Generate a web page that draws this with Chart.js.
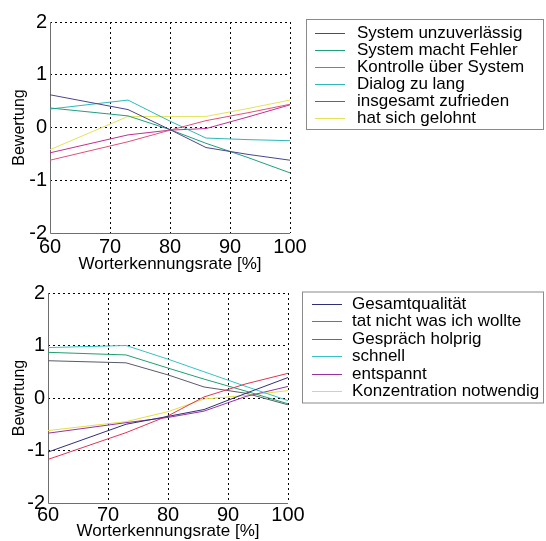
<!DOCTYPE html>
<html>
<head>
<meta charset="utf-8">
<script src="https://cdn.jsdelivr.net/npm/chart.js@4/dist/chart.umd.min.js"></script>
<style>
  html, body { margin: 0; padding: 0; background: #fff; }
  body { width: 546px; height: 541px; position: relative; overflow: hidden; }
  canvas { position: absolute; left: 0; }
  #c1 { top: 0; }
  #c2 { top: 275px; }
</style>
</head>
<body>
<canvas id="c1" width="546" height="282"></canvas>
<canvas id="c2" width="546" height="269"></canvas>
<script>
// ---------- data ----------
const xRates = [60, 73, 80, 86, 93, 100];
const yTicks = [-2, -1, 0, 1, 2];
const xTicks = [60, 70, 80, 90, 100];
const xTitle = "Worterkennungsrate [%]";
const yTitle = "Bewertung";

// top panel
const topLabels = ["System unzuverlässig", "System macht Fehler", "Kontrolle über System",
                   "Dialog zu lang", "insgesamt zufrieden", "hat sich gelohnt"];
const systemUnzuverlaessig = [0.62, 0.34, -0.04, -0.38, -0.51, -0.62];
const systemMachtFehler    = [0.37, 0.22, -0.04, -0.30, -0.57, -0.86];
const kontrolleUeberSystem = [-0.62, -0.27, -0.05, 0.13, 0.28, 0.44];
const dialogZuLang         = [0.35, 0.52, 0.12, -0.20, -0.23, -0.25];
const insgesamtZufrieden   = [-0.48, -0.14, -0.05, -0.02, 0.20, 0.43];
const hatSichGelohnt       = [-0.42, 0.21, 0.21, 0.21, 0.36, 0.52];

// bottom panel
const bottomLabels = ["Gesamtqualität", "tat nicht was ich wollte", "Gespräch holprig",
                      "schnell", "entspannt", "Konzentration notwendig"];
const gesamtqualitaet      = [-1.03, -0.50, -0.35, -0.22, 0.09, 0.39];
const tatNichtWasIchWollte = [0.87, 0.82, 0.57, 0.36, 0.13, -0.11];
const gespraechHolprig     = [-1.17, -0.66, -0.34, 0.02, 0.27, 0.47];
const schnell              = [0.96, 1.00, 0.74, 0.50, 0.22, -0.05];
const entspannt            = [-0.67, -0.47, -0.37, -0.25, 0.03, 0.22];
const konzentrationNotw    = [-0.62, -0.45, -0.26, -0.02, 0.05, 0.14];
const unlabeledSeries      = [0.71, 0.67, 0.44, 0.21, 0.09, -0.13];

// ---------- styles ----------
const FONT = "'Liberation Sans', Arial, Helvetica, sans-serif";
const topColors = ["#4a4590", "#1f9f7f", "#e0507a", "#2fb8b8", "#c0308f", "#e3e35a"];
const bottomColors = ["#2f2f78", "#1f9f72", "#e03458", "#35c4c4", "#9a2fa6", "#e2e040"];
const extraColor = "#5a5a6a";

function pts(vals) { return xRates.map((x, i) => ({ x: x, y: vals[i] })); }
function ds(label, vals, color, inLegend) {
  return { label: label, data: pts(vals), borderColor: color, backgroundColor: color,
           borderWidth: 1, pointRadius: 0, tension: 0, fill: false, inLegend: inLegend !== false };
}

const boxLegend = {
  id: 'boxLegend',
  beforeDatasetsDraw(chart) {
    const a = chart.chartArea, ctx = chart.ctx;
    ctx.save();
    ctx.strokeStyle = '#6e6e6e';
    ctx.lineWidth = 1;
    ctx.setLineDash([]);
    ctx.beginPath();
    ctx.moveTo(Math.round(a.left) + 0.5, a.top);
    ctx.lineTo(Math.round(a.left) + 0.5, Math.round(a.bottom) + 0.5);
    ctx.lineTo(a.right, Math.round(a.bottom) + 0.5);
    ctx.stroke();
    ctx.restore();
  },
  afterDraw(chart, args, o) {
    const ctx = chart.ctx;
    ctx.save();
    ctx.setLineDash([]);
    ctx.strokeStyle = '#8a8a8a';
    ctx.lineWidth = 1;
    ctx.strokeRect(o.x + 0.5, o.y + 0.5, o.w, o.h);
    ctx.font = o.fontSize + "px " + FONT;
    ctx.textBaseline = 'middle';
    ctx.textAlign = 'left';
    let row = 0;
    chart.data.datasets.forEach(d => {
      if (!d.inLegend) return;
      const y = Math.round(o.y0 + row * o.dy) + 0.5;
      ctx.strokeStyle = d.borderColor;
      ctx.lineWidth = 1;
      ctx.beginPath(); ctx.moveTo(o.lx1, y); ctx.lineTo(o.lx2, y); ctx.stroke();
      ctx.fillStyle = '#000';
      ctx.fillText(d.label, o.tx, y);
      row++;
    });
    ctx.restore();
  }
};

function makeOptions(cfg) {
  return {
    responsive: false,
    animation: false,
    layout: { padding: { top: cfg.top, right: cfg.right, left: 0, bottom: 0 } },
    plugins: { legend: { display: false }, tooltip: { enabled: false }, boxLegend: cfg.legend },
    scales: {
      x: {
        type: 'linear', min: 60, max: 100,
        afterBuildTicks: s => { s.ticks = xTicks.map(v => ({ value: v })); },
        afterFit: s => { s.height = cfg.xh; },
        ticks: { color: '#000', font: { family: FONT, size: 20 }, padding: cfg.xtp, maxRotation: 0 },
        grid: { color: c => (c.tick && c.tick.value === 60) ? 'rgba(0,0,0,0)' : '#000',
                lineWidth: 1, drawTicks: false },
        border: { display: false, dash: [2, 3] },
        title: { display: true, text: xTitle, color: '#000', font: { family: FONT, size: 17 },
                 padding: { top: 0, bottom: cfg.xtb } }
      },
      y: {
        type: 'linear', min: -2, max: 2,
        afterBuildTicks: s => { s.ticks = yTicks.map(v => ({ value: v })); },
        afterFit: s => { s.width = cfg.yw; },
        ticks: { color: '#000', font: { family: FONT, size: 20 }, padding: 3 },
        grid: { color: c => (c.tick && c.tick.value === -2) ? 'rgba(0,0,0,0)' : '#000',
                lineWidth: 1, drawTicks: false },
        border: { display: false, dash: [2, 3] },
        title: { display: true, text: yTitle, color: '#000', font: { family: FONT, size: 16 },
                 padding: { top: 10, bottom: 0 } }
      }
    }
  };
}

new Chart(document.getElementById('c1'), {
  type: 'line',
  data: {
    datasets: [
      ds(topLabels[0], systemUnzuverlaessig, topColors[0]),
      ds(topLabels[1], systemMachtFehler, topColors[1]),
      ds(topLabels[2], kontrolleUeberSystem, topColors[2]),
      ds(topLabels[3], dialogZuLang, topColors[3]),
      ds(topLabels[4], insgesamtZufrieden, topColors[4]),
      ds(topLabels[5], hatSichGelohnt, topColors[5])
    ]
  },
  options: makeOptions({ top: 22, right: 256, xh: 49, yw: 50, xtp: 2, xtb: 7,
    legend: { x: 306, y: 19, w: 237, h: 110, lx1: 315, lx2: 345, tx: 357, y0: 32.5, dy: 17, fontSize: 17 } }),
  plugins: [boxLegend]
});

new Chart(document.getElementById('c2'), {
  type: 'line',
  data: {
    datasets: [
      ds(bottomLabels[0], gesamtqualitaet, bottomColors[0]),
      ds(bottomLabels[1], tatNichtWasIchWollte, bottomColors[1]),
      ds(bottomLabels[2], gespraechHolprig, bottomColors[2]),
      ds(bottomLabels[3], schnell, bottomColors[3]),
      ds(bottomLabels[4], entspannt, bottomColors[4]),
      ds(bottomLabels[5], konzentrationNotw, bottomColors[5]),
      ds("", unlabeledSeries, extraColor, false)
    ]
  },
  options: makeOptions({ top: 18, right: 258, xh: 41, yw: 48, xtp: 0, xtb: 2,
    legend: { x: 302, y: 16.5, w: 241, h: 111, lx1: 312, lx2: 342, tx: 352, y0: 28.5, dy: 17.5, fontSize: 17 } }),
  plugins: [boxLegend]
});
</script>
</body>
</html>
